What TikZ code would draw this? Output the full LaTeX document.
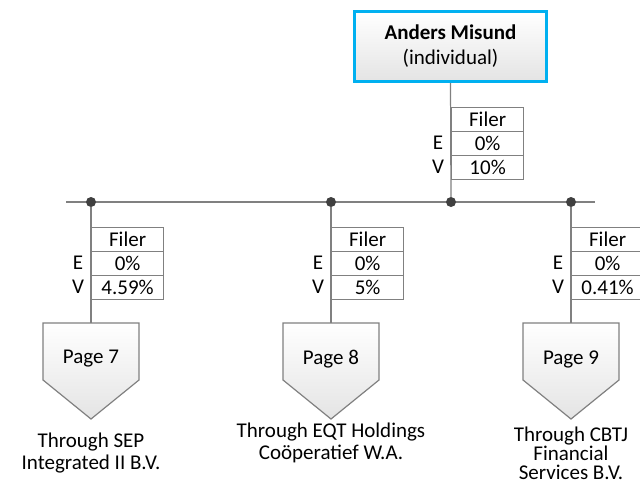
\documentclass[tikz,border=0pt]{standalone}
\usepackage{fontspec}
\setmainfont{Carlito}
\definecolor{linegray}{HTML}{808080}
\definecolor{dotgray}{HTML}{404040}
\definecolor{boxblue}{HTML}{00B0F0}
\definecolor{shadegray}{HTML}{E4E4E4}
\begin{document}
\begin{tikzpicture}[x=1pt,y=-1pt,
  txt/.style={font=\fontsize{21}{21}\selectfont, text=black, inner sep=0pt},
  topbox/.style={draw=boxblue, line width=3pt, top color=white, bottom color=shadegray,
    minimum width=192pt, minimum height=70pt, align=center, inner sep=0pt,
    font=\fontsize{21}{25}\selectfont},
  cell/.style={draw=linegray, line width=1.2pt, minimum width=72pt, minimum height=24pt,
    inner sep=0pt, font=\fontsize{21}{21}\selectfont, anchor=north west},
  dot/.style={circle, fill=dotgray, minimum size=10pt, inner sep=0pt},
  conn/.style={draw=linegray, line width=1.2pt},
  pent/.style={draw=linegray, line width=1.2pt, top color=white, bottom color=shadegray},
  lbl/.style={txt, align=center}
]
\useasboundingbox (0,0) rectangle (640,485);

% top box
\node[topbox] (am) at (450.5,46.5) {\textbf{Anders Misund}\\(individual)};

% bus
\coordinate (busL) at (66,202);
\coordinate (busR) at (595,202);
\draw[conn] (busL) -- (busR);
\node[dot] (d1) at (91,202) {};
\node[dot] (d2) at (331,202) {};
\node[dot] (d3) at (451,202) {};
\node[dot] (d4) at (571,202) {};

% top table
\node[cell] (tf) at (451,107) {Filer};
\node[cell] (te) at (451,131) {0\%};
\node[cell] (tv) at (451,155) {10\%};
\node[txt] at (438,143) {E};
\node[txt] at (438,167) {V};
\draw[conn] (am.south) -- (d3);

% branch tables
\foreach \n/\x/\v in {1/91/4.59\%, 2/331/5\%, 3/571/0.41\%}{
  \node[cell] (f\n) at (\x,227) {Filer};
  \node[cell] (e\n) at (\x,251) {0\%};
  \node[cell] (v\n) at (\x,275) {\v};
  \node[txt] at (\x-13,263) {E};
  \node[txt] at (\x-13,287) {V};
  \coordinate (p\n) at (\x,323);
  \path[pent] (\x-48,323) -- (\x+48,323) -- (\x+48,380) -- (\x,419) -- (\x-48,380) -- cycle;
}
\draw[conn] (d1) -- (p1);
\draw[conn] (d2) -- (p2);
\draw[conn] (d4) -- (p3);

\node[txt] (pg7) at (91,359) {Page 7};
\node[txt] (pg8) at (331,359) {Page 8};
\node[txt] (pg9) at (571,359) {Page 9};

\node[lbl] (l1) at (91,453) {Through SEP\\[1pt]Integrated II B.V.};
\node[lbl] (l2) at (331,443) {Through EQT Holdings\\[1pt]Coöperatief W.A.};
\node[lbl, font=\fontsize{21}{19}\selectfont] (l3) at (571,453) {Through CBTJ\\Financial\\Services B.V.};
\end{tikzpicture}
\end{document}
